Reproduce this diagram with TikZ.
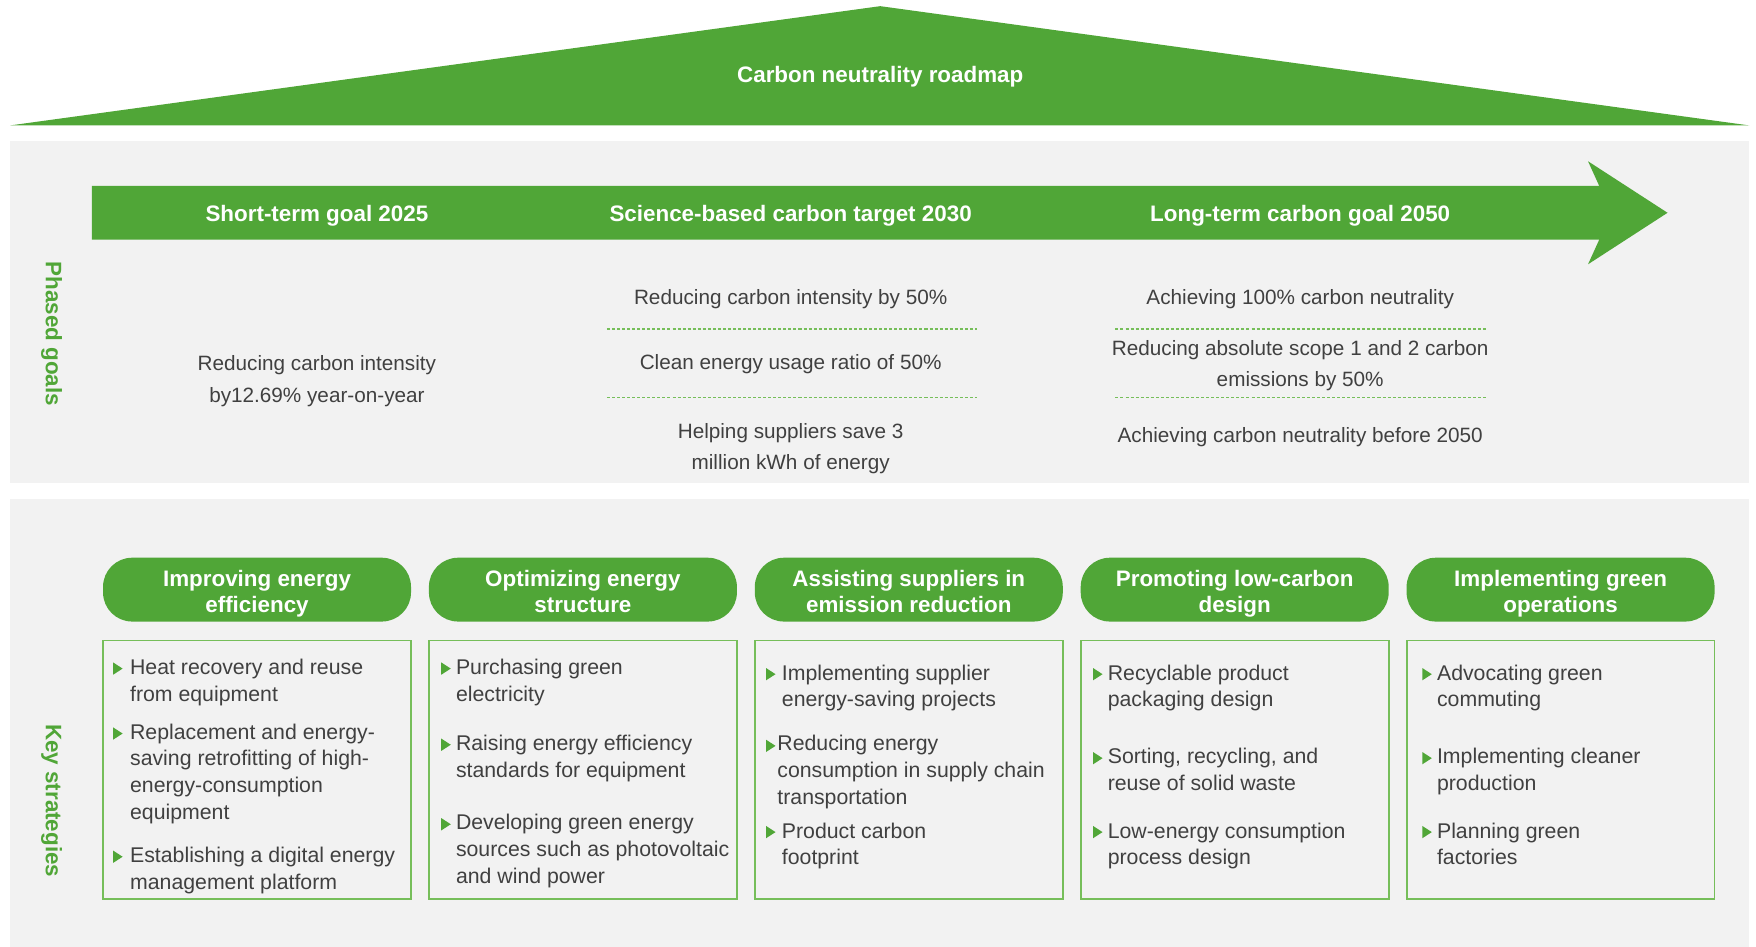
\documentclass[tikz,border=0pt]{standalone}
\usepackage{fontspec}
\setmainfont{Liberation Sans}
\definecolor{gr}{RGB}{80,166,55}
\definecolor{lg}{RGB}{118,190,90}
\definecolor{pg}{RGB}{242,242,242}
\definecolor{tg}{RGB}{64,64,64}
\newcommand\bitem[6]{%
  \fill[gr] (#2,#4-4.5) -- (#2+8.5,#4+1) -- (#2,#4+6.5) -- cycle;
  \node[btxt] (#1) at (#3,#5) {#6};}
\begin{document}
\begin{tikzpicture}[x=1pt,y=-1pt,
  hdr/.style={font=\bfseries\fontsize{20}{23}\selectfont, text=white, align=center, inner sep=0,
    yshift=-3pt, execute at begin node=\strut, execute at end node=\strut},
  side/.style={font=\bfseries\fontsize{20}{24}\selectfont, text=gr, rotate=-90, inner sep=0},
  goal/.style={font=\fontsize{18.5}{28.5}\selectfont, text=tg, align=center, inner sep=0,
    yshift=-3pt, execute at begin node=\strut, execute at end node=\strut},
  btxt/.style={font=\fontsize{19}{24}\selectfont, text=tg, align=left, inner sep=0, anchor=west,
    yshift=-3pt, execute at begin node=\strut, execute at end node=\strut},
  pill/.style={fill=gr, rounded corners=26, minimum width=275, minimum height=57},
  sbox/.style={draw=lg, line width=1.6, minimum width=275, minimum height=231, inner sep=0},
  dline/.style={draw=lg, line width=1.5, dash pattern=on 2.7 off 1.8}]
\useasboundingbox (0,0) rectangle (1568,845.6);
\fill[white] (0,0) rectangle (1568,845.6);
% roof
\fill[gr] (9,112) -- (786,5.5) -- (1562,112) -- cycle;
\node[hdr] (title) at (786,66) {Carbon neutrality roadmap};
% panels
\fill[pg] (9,126) rectangle (1562,431.5);
\fill[pg] (9,446) rectangle (1562,845.6);
% arrow
\fill[gr] (82,166) -- (1428,166) -- (1418,144) -- (1489,190) -- (1418,236) -- (1428,214) -- (82,214) -- cycle;
\node[hdr] (h1) at (283,190) {Short-term goal 2025};
\node[hdr] (h2) at (706,190) {Science-based carbon target 2030};
\node[hdr] (h3) at (1161,190) {Long-term carbon goal 2050};
% side labels
\node[side] (sg) at (46,298) {Phased goals};
\node[side] (sk) at (46,715) {Key strategies};
% goals
\node[goal] (g1) at (283,339.5) {Reducing carbon intensity\\by12.69\% year-on-year};
\node[goal] (g2a) at (706,263) {Reducing carbon intensity by 50\%};
\node[goal] (g2b) at (706,321.4) {Clean energy usage ratio of 50\%};
\node[goal,font=\fontsize{18.5}{28}\selectfont] (g2c) at (706,400) {Helping suppliers save 3\\million kWh of energy};
\draw[dline] (542,293.7) -- (872,293.7);
\draw[dline] (542,354.8) -- (872,354.8);
\node[goal] (g3a) at (1161,263.4) {Achieving 100\% carbon neutrality};
\node[goal,font=\fontsize{18.5}{28}\selectfont] (g3b) at (1161,325.5) {Reducing absolute scope 1 and 2 carbon\\emissions by 50\%};
\node[goal] (g3c) at (1161,386.6) {Achieving carbon neutrality before 2050};
\draw[dline] (996,293.7) -- (1327,293.7);
\draw[dline] (996,354.8) -- (1327,354.8);
% strategy headers
\node[pill] (p1) at (229.5,526.5) {};
\node[pill] (p2) at (520.5,526.5) {};
\node[pill] (p3) at (811.5,526.5) {};
\node[pill] (p4) at (1102.5,526.5) {};
\node[pill] (p5) at (1393.5,526.5) {};
\tikzset{ptxt/.style={hdr, font=\bfseries\fontsize{20}{23.6}\selectfont}}
\node[ptxt] (t1) at (p1.center) [yshift=-2pt] {Improving energy\\efficiency};
\node[ptxt] (t2) at (p2.center) [yshift=-2pt] {Optimizing energy\\structure};
\node[ptxt] (t3) at (p3.center) [yshift=-2pt] {Assisting suppliers in\\emission reduction};
\node[ptxt] (t4) at (p4.center) [yshift=-2pt] {Promoting low-carbon\\design};
\node[ptxt] (t5) at (p5.center) [yshift=-2pt] {Implementing green\\operations};
% boxes
\node[sbox] (b1) at (229.5,687.5) {};
\node[sbox] (b2) at (520.5,687.5) {};
\node[sbox] (b3) at (811.5,687.5) {};
\node[sbox] (b4) at (1102.5,687.5) {};
\node[sbox] (b5) at (1393.5,687.5) {};
% items
\bitem{i1a}{101}{116}{596}{608.3}{Heat recovery and reuse\\from equipment}
\bitem{i1b}{101}{116}{654}{689.6}{Replacement and energy-\\saving retrofitting of high-\\energy-consumption\\equipment}
\bitem{i1c}{101}{116}{764}{776}{Establishing a digital energy\\management platform}
\bitem{i2a}{394}{407}{596}{608.3}{Purchasing green\\electricity}
\bitem{i2b}{394}{407}{664}{675.8}{Raising energy efficiency\\standards for equipment}
\bitem{i2c}{394}{407}{735}{758.3}{Developing green energy\\sources such as photovoltaic\\and wind power}
\bitem{i3a}{684}{698}{601}{613}{Implementing supplier\\energy-saving projects}
\bitem{i3b}{684}{694}{665}{688}{Reducing energy\\consumption in supply chain\\transportation}
\bitem{i3c}{684}{698}{742}{754}{Product carbon\\footprint}
\bitem{i4a}{976}{989}{601}{613}{Recyclable product\\packaging design}
\bitem{i4b}{976}{989}{676}{687.8}{Sorting, recycling, and\\reuse of solid waste}
\bitem{i4c}{976}{989}{742}{754}{Low-energy consumption\\process design}
\bitem{i5a}{1270}{1283}{601}{613}{Advocating green\\commuting}
\bitem{i5b}{1270}{1283}{676}{687.8}{Implementing cleaner\\production}
\bitem{i5c}{1270}{1283}{742}{754}{Planning green\\factories}
\end{tikzpicture}
\end{document}
